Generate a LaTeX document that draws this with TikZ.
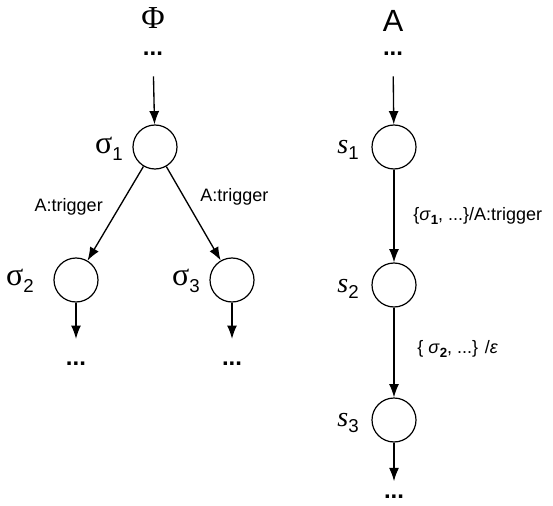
\documentclass[tikz,border=0pt]{standalone}
\usepackage{fontspec}
\setmainfont{Liberation Sans}
\newfontfamily\serifit{Liberation Serif}
\usetikzlibrary{arrows.meta}
\tikzset{>={Latex[length=10pt,width=7.5pt]}}
\tikzset{state/.style={draw, circle, minimum size=33pt, inner sep=0pt, line width=0.9pt},
         ellip/.style={font=\fontsize{18}{20}\selectfont\bfseries, inner sep=0pt},
         sname/.style={font=\fontsize{24}{26}\selectfont, inner sep=0pt},
         trig/.style={font=\fontsize{13.5}{15}\selectfont, inner sep=0pt}}
\newcommand{\sub}[1]{\raisebox{-0.4ex}{\fontsize{14}{16}\selectfont #1}}
\newcommand{\esub}[1]{\raisebox{-0.4ex}{\fontsize{10}{11}\selectfont\bfseries #1}}
\newcommand{\sst}[1]{{\serifit\itshape s}\sub{#1}}
\newcommand{\sig}[1]{{\serifit σ}\sub{#1}}

\begin{document}
\begin{tikzpicture}[x=0.75pt,y=-0.75pt,line width=1pt]
        \useasboundingbox (0,0) rectangle (553,506);

        \node[font=\fontsize{24}{26}\selectfont\serifit, inner sep=0pt] (phi) at (153,18) {Φ};
        \node[ellip] (dphi) at (153,54) {...};
        \node[state] (sig1) at (155,147) {};
        \node[state] (sig2) at (76,280) {};
        \node[state] (sig3) at (232,280) {};
        \node[sname] (nsig1) at (109,149) {\sig{1}};
        \node[sname] (nsig2) at (20,281) {\sig{2}};
        \node[sname] (nsig3) at (186,281) {\sig{3}};
        \node[ellip] (d2) at (76,364) {...};
        \node[ellip] (d3) at (232,364) {...};

        \draw[->, shorten <=15pt] (dphi) -- (sig1);
        \draw[->] (sig1) -- (sig2) node[trig, pos=0.43, anchor=east, xshift=-12pt] (t1) {A:trigger};
        \draw[->] (sig1) -- (sig3) node[trig, pos=0.32, anchor=west, xshift=12pt] (t2) {A:trigger};
        \draw[->, shorten >=17pt] (sig2) -- (d2);
        \draw[->, shorten >=17pt] (sig3) -- (d3);

        \node[font=\fontsize{23}{25}\selectfont, inner sep=0pt] (auto) at (393,21) {A};
        \node[ellip] (dA) at (393,54) {...};
        \node[state] (s1) at (394,147) {};
        \node[state] (s2) at (394,285) {};
        \node[state] (s3) at (394,420) {};
        \node[sname, font=\fontsize{21}{24}\selectfont] (ns1) at (348,150) {\sst{1}};
        \node[sname, font=\fontsize{21}{24}\selectfont] (ns2) at (348,289) {\sst{2}};
        \node[sname, font=\fontsize{21}{24}\selectfont] (ns3) at (348,423) {\sst{3}};
        \node[ellip] (dB) at (394,497) {...};

        \draw[->, shorten <=15pt] (dA) -- (s1);
        \draw[->] (s1) -- (s2) node[trig, anchor=west, pos=0.5, xshift=14pt] (e1) {\{\textit{σ}\esub{1}, ...\}/A:trigger};
        \draw[->] (s2) -- (s3) node[trig, anchor=west, pos=0.46, xshift=17pt] (e2) {\{ \textit{σ}\esub{2}, ...\} /\textit{ε}};
        \draw[->, shorten >=10pt] (s3) -- (dB);
\end{tikzpicture}
\end{document}
